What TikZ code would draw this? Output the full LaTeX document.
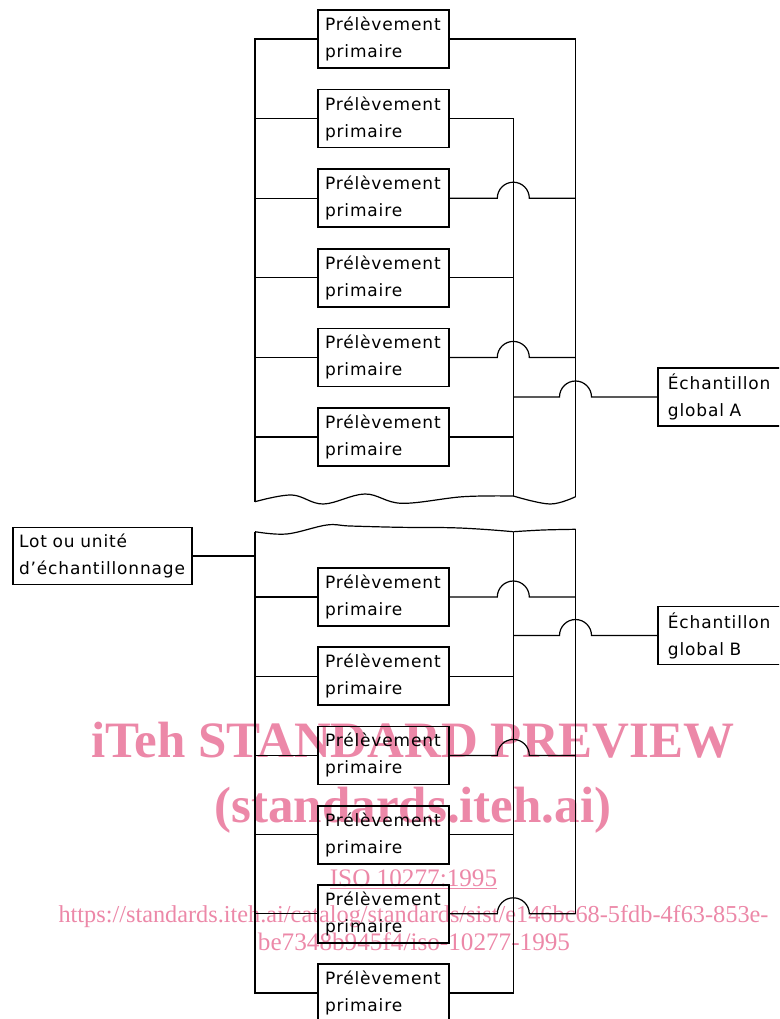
\documentclass[tikz,border=0pt]{standalone}
\usepackage{fontspec}
\usetikzlibrary{calc}
\newfontfamily\labfont{DejaVu Sans}[LetterSpace=5]
\newfontfamily\wmfont{Liberation Serif}
\definecolor{wmpink}{RGB}{236,136,168}
\begin{document}
\begin{tikzpicture}[x=1pt,y=-1pt,
  conn/.style={line width=1.2pt, line join=miter},
  boxbase/.style={draw, line width=1.8pt, align=left, inner ysep=0pt,
    font=\labfont\fontsize{17}{27}\selectfont},
  pbox/.style={boxbase, inner xsep=7pt, text width=117pt, minimum height=58pt},
  lotbox/.style={boxbase, inner xsep=6pt, text width=167pt, minimum height=57pt},
  gbox/.style={boxbase, inner xsep=10pt, text width=140pt, minimum height=58pt, anchor=west},
  wmbig/.style={text=wmpink, anchor=base, inner sep=0pt, font=\wmfont\bfseries\fontsize{51}{51}\selectfont},
  wmsmall/.style={text=wmpink, anchor=base, inner sep=0pt, font=\wmfont\fontsize{25.2}{25}\selectfont}]
\useasboundingbox (0,0) rectangle (779,1019);
\clip (0,0) rectangle (779,1019);

% watermark (behind)
\node[wmbig] (wm1) at (413,757.5) {iTeh STANDARD PREVIEW};
\node[wmbig] (wm2) at (413,822) {(standards.iteh.ai)};
\node[wmsmall] (wm3) at (413.5,886.7) {\underline{ISO 10277:1995}};
\node[wmsmall, font=\wmfont\fontsize{24.3}{25}\selectfont] (wm4) at (413.5,922) {https://standards.iteh.ai/catalog/standards/sist/e146bc68-5fdb-4f63-853e-};
\node[wmsmall] (wm5) at (414,950.7) {be7348b945f4/iso-10277-1995};

% bus positions
\coordinate (xL) at (255,0);
\coordinate (xI) at (513.3,0);
\coordinate (xR) at (575.5,0);

% top section boxes
\node[pbox] (t1) at (383.5,39) {Prélèvement\\primaire};
\node[pbox] (t2) at (383.5,118.6) {Prélèvement\\primaire};
\node[pbox] (t3) at (383.5,198.2) {Prélèvement\\primaire};
\node[pbox] (t4) at (383.5,277.8) {Prélèvement\\primaire};
\node[pbox] (t5) at (383.5,357.4) {Prélèvement\\primaire};
\node[pbox] (t6) at (383.5,437) {Prélèvement\\primaire};
\node[gbox] (gA) at (657,397) {Échantillon\\global A};

% lot
\node[lotbox] (lot) at (102.5,556) {Lot ou unité\\d’échantillonnage};

% bottom section boxes
\node[pbox] (b1) at (383.5,597) {Prélèvement\\primaire};
\node[pbox] (b2) at (383.5,676.2) {Prélèvement\\primaire};
\node[pbox] (b3) at (383.5,755.4) {Prélèvement\\primaire};
\node[pbox] (b4) at (383.5,834.6) {Prélèvement\\primaire};
\node[pbox] (b5) at (383.5,913.8) {Prélèvement\\primaire};
\node[pbox] (b6) at (383.5,993) {Prélèvement\\primaire};
\node[gbox] (gB) at (657,635.5) {Échantillon\\global B};

% break coordinates
\coordinate (wLt) at (255,501.7);
\coordinate (wIt) at (513.3,496);
\coordinate (wRt) at (575.5,496.7);
\coordinate (wLb) at (255,531.7);
\coordinate (wIb) at (513.3,531.7);
\coordinate (wRb) at (575.5,529.3);

% ---- top section ----
\draw[conn] (t1.west) -- (t1.west -| xL) -- (wLt);
\foreach \n in {t2,t3,t4,t5,t6} \draw[conn] (\n.west) -- (\n.west -| xL);
\draw[conn] (t1.east) -- (t1.east -| xR) -- (wRt);
\draw[conn] (t2.east) -- (t2.east -| xI) -- (wIt);
\foreach \n in {t3,t5}
  \draw[conn] (\n.east) -- ($(\n.east -| xI)+(-16,0)$)
    arc[start angle=180, end angle=0, radius=16pt] -- (\n.east -| xR);
\foreach \n in {t4,t6} \draw[conn] (\n.east) -- (\n.east -| xI);
\draw[conn] (gA.west) -- ($(gA.west -| xR)+(16,0)$)
    arc[start angle=0, end angle=180, radius=16pt] -- (gA.west -| xI);

% break lines
\draw[conn] plot[smooth, tension=0.6] coordinates {(wLt) (291.7,495) (323.3,504) (365,494) (401.7,503.3) (463,496.7) (wIt)};
\draw[conn] plot[smooth, tension=0.6] coordinates {(wIt) (550,504) (wRt)};
\draw[conn] plot[smooth, tension=0.6] coordinates {(wLb) (286.7,534) (326.7,525) (350,526) (400,527.3) (450,527.7) (483,529.3) (wIb)};
\draw[conn] plot[smooth, tension=0.6] coordinates {(wIb) (543,530) (wRb)};

% ---- bottom section ----
\draw[conn] (lot.east) -- (lot.east -| xL);
\draw[conn] (wLb) -- (b6.west -| xL) -- (b6.west);
\foreach \n in {b1,b2,b3,b4,b5} \draw[conn] (\n.west) -- (\n.west -| xL);
\draw[conn] (wIb) -- (b6.east -| xI) -- (b6.east);
\draw[conn] (wRb) -- (b5.east -| xR);
\foreach \n in {b1,b3,b5}
  \draw[conn] (\n.east) -- ($(\n.east -| xI)+(-16,0)$)
    arc[start angle=180, end angle=0, radius=16pt] -- (\n.east -| xR);
\foreach \n in {b2,b4} \draw[conn] (\n.east) -- (\n.east -| xI);
\draw[conn] (gB.west) -- ($(gB.west -| xR)+(16,0)$)
    arc[start angle=0, end angle=180, radius=16pt] -- (gB.west -| xI);
\end{tikzpicture}
\end{document}
